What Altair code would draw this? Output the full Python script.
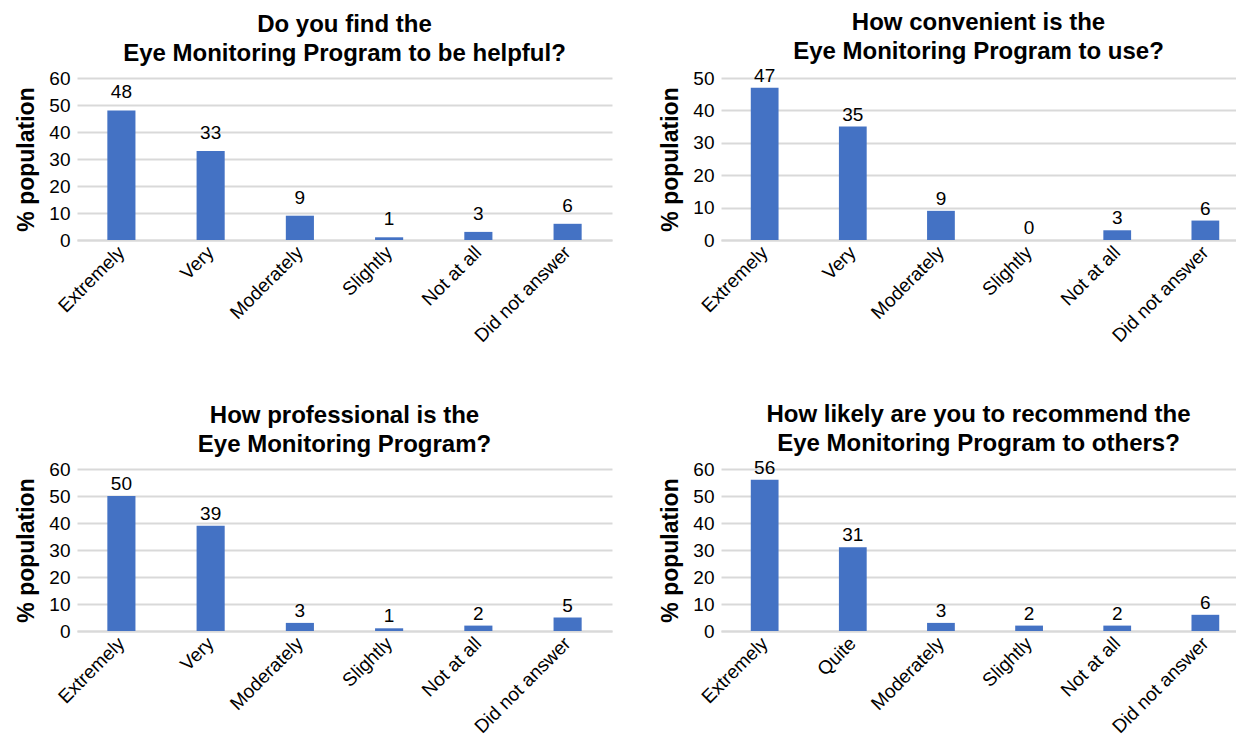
import altair as alt
import pandas as pd

cats_a = ["Extremely", "Very", "Moderately", "Slightly", "Not at all", "Did not answer"]
cats_d = ["Extremely", "Quite", "Moderately", "Slightly", "Not at all", "Did not answer"]

vals_helpful = [48, 33, 9, 1, 3, 6]
vals_convenient = [47, 35, 9, 0, 3, 6]
vals_professional = [50, 39, 3, 1, 2, 5]
vals_recommend = [56, 31, 3, 2, 2, 6]

titles = [
    ["Do you find the", "Eye Monitoring Program to be helpful?"],
    ["How convenient is the", "Eye Monitoring Program to use?"],
    ["How professional is the", "Eye Monitoring Program?"],
    ["How likely are you to recommend the", "Eye Monitoring Program to others?"],
]
ymaxes = [60, 50, 60, 60]

FONT = "Liberation Sans"
BLUE = "#4472C4"
GRID = "#d9d9d9"
FS = 19


def panel(title, cats, vals, ymax, dy, width, po, align):
    df = pd.DataFrame({"cat": cats, "val": vals})
    base = alt.Chart(df).encode(
        x=alt.X(
            "cat:N",
            sort=cats,
            scale=alt.Scale(paddingInner=0.685, paddingOuter=po, align=align),
            axis=alt.Axis(
                title=None,
                labelAngle=-45,
                labelAlign="right",
                labelBaseline="middle",
                labelPadding=9,
                ticks=False,
                domain=True,
                domainColor=GRID,
                domainWidth=2,
                grid=False,
                labelFontSize=FS,
                labelFont=FONT,
                labelColor="#000000",
            ),
        ),
        y=alt.Y(
            "val:Q",
            scale=alt.Scale(domain=[0, ymax], nice=False),
            axis=alt.Axis(
                title="% population",
                values=list(range(0, ymax + 1, 10)),
                ticks=False,
                domain=False,
                grid=True,
                gridColor=GRID,
                gridWidth=2,
                labelFontSize=FS,
                labelFont=FONT,
                labelColor="#000000",
                labelPadding=7,
                titleFont=FONT,
                titleFontSize=23,
                titleFontWeight="bold",
                titleColor="#000000",
                titlePadding=10,
            ),
        ),
    )
    bars = base.mark_bar(color=BLUE)
    text = base.mark_text(
        baseline="bottom", dy=-dy, fontSize=FS, font=FONT, color="#000000"
    ).encode(text="val:Q")
    return alt.layer(bars, text).properties(
        width=width,
        height=162,
        title=alt.TitleParams(
            text=title,
            font=FONT,
            fontSize=24,
            fontWeight="bold",
            color="#000000",
            anchor="middle",
            frame="group",
            lineHeight=29,
            offset=3,
        ),
    )


p1 = panel(titles[0], cats_a, vals_helpful, ymaxes[0], 8, 535, 0.34, 0.5)
p2 = panel(titles[1], cats_a, vals_convenient, ymaxes[1], 2, 515, 0.264, 0.64)
p3 = panel(titles[2], cats_a, vals_professional, ymaxes[2], 2, 535, 0.34, 0.5)
p4 = panel(titles[3], cats_d, vals_recommend, ymaxes[3], 2, 515, 0.264, 0.64)

chart = (
    alt.vconcat(
        alt.hconcat(p1, p2, spacing=47),
        alt.hconcat(p3, p4, spacing=47),
        spacing=56,
    )
    .properties(padding={"left": 7, "top": 2, "right": 0, "bottom": 0})
    .configure_view(stroke=None)
)

chart.save("out.html", embed_options={"renderer": "svg", "actions": False})
